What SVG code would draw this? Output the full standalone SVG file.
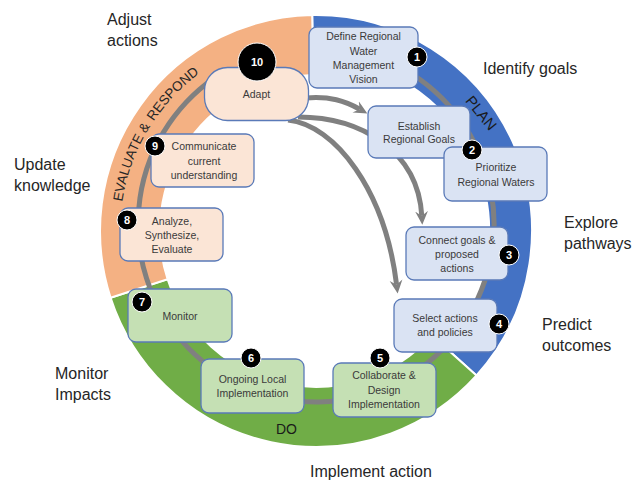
<svg xmlns="http://www.w3.org/2000/svg" width="634" height="481" viewBox="0 0 634 481">
<defs>
<style>
.seg{stroke:#ffffff;stroke-width:2}
.box{stroke:#5a7ab8;stroke-width:1.3}
.bl{fill:#dae3f3}
.gr{fill:#c5e0b4}
.or{fill:#fbe5d6}
.bt{font-family:"Liberation Sans",Arial,sans-serif;font-size:10.5px;fill:#3a3a3a;text-anchor:middle}
.lab{font-family:"Liberation Sans",Arial,sans-serif;font-size:16px;fill:#262626}
.ring{font-family:"Liberation Sans",Arial,sans-serif;fill:#1a1a1a;text-anchor:middle}
.ev{font-family:"Liberation Sans",Arial,sans-serif;font-size:13.5px;fill:#262626}
.badge{fill:#000000;stroke:#ffffff;stroke-width:1}
.bn{font-family:"Liberation Sans",Arial,sans-serif;font-size:11px;font-weight:bold;fill:#ffffff;text-anchor:middle}
.arr{fill:none;stroke:#808080;stroke-width:5}
</style>
<marker id="ah" viewBox="0 0 12 12" refX="4" refY="6" markerWidth="14" markerHeight="14" markerUnits="userSpaceOnUse" orient="auto">
<path d="M0,0.5 L11.5,6 L0,11.5 L4,6 Z" fill="#808080"/>
</marker>
<path id="evalArc" d="M146.3,329 A196,196 0 0 1 322.8,35.1"/>
</defs>

<g id="ring">
<path class="seg" fill="#4472c4" d="M312.2,15 A216,216 0 0 1 476.5,375.5 L444.6,346.8 A173,173 0 0 0 313,58 Z"/>
<path class="seg" fill="#70ad47" d="M476.5,375.5 A216,216 0 0 1 110.6,297.7 L167.6,279.2 A156,156 0 0 0 431.9,335.4 Z"/>
<path class="seg" fill="#f4b183" d="M110.6,297.7 A216,216 0 0 1 312.2,15 L313.3,75 A156,156 0 0 0 167.6,279.2 Z"/>
<text class="ring" font-size="15" transform="translate(481,113) rotate(51)" dy="5">PLAN</text>
<text class="ring" font-size="14" x="286.5" y="434">DO</text>
<text class="ev"><textPath href="#evalArc" startOffset="131.8">EVALUATE &amp;</textPath></text>
<text class="ev"><textPath href="#evalArc" startOffset="218.8">RESPOND</textPath></text>
</g>

<g id="connectors">
<path class="arr" d="M405,69.85 A178,178 0 1 1 221.7,73.1"/>
<path class="arr" marker-end="url(#ah)" d="M306,98 C330,96 345,101 359.7,109.2"/>
<path class="arr" marker-end="url(#ah)" d="M298,117 C360,117 418,150 421.8,215.9"/>
<path class="arr" marker-end="url(#ah)" d="M288,120 C335,125 385,190 396.6,284.8"/>
</g>

<g id="n1">
<rect class="box bl" x="309" y="27" width="109" height="61" rx="8"/>
<text class="bt" x="363.5" y="40">Define Regional</text>
<text class="bt" x="363.5" y="55">Water</text>
<text class="bt" x="363.5" y="69">Management</text>
<text class="bt" x="363.5" y="83">Vision</text>
<circle class="badge" cx="417" cy="57" r="10"/>
<text class="bn" x="417" y="61">1</text>
</g>

<g id="n2">
<rect class="box bl" x="368" y="106" width="102" height="52" rx="8"/>
<text class="bt" x="419" y="130">Establish</text>
<text class="bt" x="419" y="143">Regional Goals</text>
</g>

<g id="n2b">
<rect class="box bl" x="444" y="147" width="103" height="54" rx="8"/>
<text class="bt" x="496" y="171">Prioritize</text>
<text class="bt" x="496" y="186">Regional Waters</text>
</g>
<g id="b2">
<circle class="badge" cx="472" cy="150" r="10"/>
<text class="bn" x="472" y="154">2</text>
</g>

<g id="n3">
<rect class="box bl" x="406" y="227" width="102" height="53" rx="8"/>
<text class="bt" x="457" y="244">Connect goals &amp;</text>
<text class="bt" x="457" y="258">proposed</text>
<text class="bt" x="457" y="272">actions</text>
<circle class="badge" cx="509" cy="255" r="10"/>
<text class="bn" x="509" y="259">3</text>
</g>

<g id="n4">
<rect class="box bl" x="394" y="299" width="103" height="53" rx="8"/>
<text class="bt" x="445" y="322">Select actions</text>
<text class="bt" x="445" y="336">and policies</text>
<circle class="badge" cx="499" cy="324" r="10"/>
<text class="bn" x="499" y="328">4</text>
</g>

<g id="n5">
<rect class="box gr" x="333" y="363" width="103" height="54" rx="8"/>
<text class="bt" x="384" y="379">Collaborate &amp;</text>
<text class="bt" x="384" y="394">Design</text>
<text class="bt" x="384" y="408">Implementation</text>
<circle class="badge" cx="380" cy="358" r="10"/>
<text class="bn" x="380" y="362">5</text>
</g>

<g id="n6">
<rect class="box gr" x="201" y="359" width="103" height="54" rx="8"/>
<text class="bt" x="252.5" y="383">Ongoing Local</text>
<text class="bt" x="252.5" y="397">Implementation</text>
<circle class="badge" cx="251" cy="358" r="10"/>
<text class="bn" x="251" y="362">6</text>
</g>

<g id="n7">
<rect class="box gr" x="128" y="289" width="104" height="53" rx="8"/>
<text class="bt" x="180" y="320">Monitor</text>
<circle class="badge" cx="142" cy="302" r="10"/>
<text class="bn" x="142" y="306">7</text>
</g>

<g id="n8">
<rect class="box or" x="120" y="208" width="103" height="53" rx="8"/>
<text class="bt" x="172" y="225">Analyze,</text>
<text class="bt" x="172" y="239">Synthesize,</text>
<text class="bt" x="172" y="253">Evaluate</text>
<circle class="badge" cx="127" cy="220" r="10"/>
<text class="bn" x="127" y="224">8</text>
</g>

<g id="n9">
<rect class="box or" x="151" y="134" width="103" height="53" rx="8"/>
<text class="bt" x="204" y="150">Communicate</text>
<text class="bt" x="204" y="165">current</text>
<text class="bt" x="204" y="179">understanding</text>
<circle class="badge" cx="155" cy="146" r="10"/>
<text class="bn" x="155" y="150">9</text>
</g>

<g id="n10">
<rect class="box or" x="204.5" y="67.5" width="104" height="53" rx="23"/>
<text class="bt" x="256.5" y="98">Adapt</text>
<circle class="badge" cx="257" cy="62" r="19"/>
<text class="bn" x="257" y="65.5" font-weight="normal" font-size="10">10</text>
</g>

<g id="labels">
<text class="lab" x="107" y="25">Adjust</text>
<text class="lab" x="107" y="46">actions</text>
<text class="lab" x="14" y="170">Update</text>
<text class="lab" x="14" y="191">knowledge</text>
<text class="lab" x="483" y="74">Identify goals</text>
<text class="lab" x="564" y="228">Explore</text>
<text class="lab" x="564" y="249">pathways</text>
<text class="lab" x="542" y="330">Predict</text>
<text class="lab" x="542" y="351">outcomes</text>
<text class="lab" x="55" y="379">Monitor</text>
<text class="lab" x="55" y="400">Impacts</text>
<text class="lab" x="310" y="477">Implement action</text>
</g>
</svg>
